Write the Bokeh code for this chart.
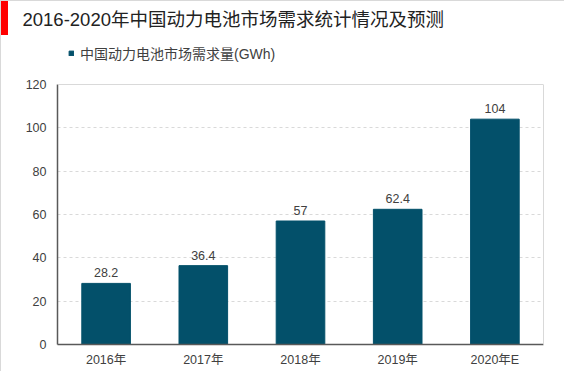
from bokeh.plotting import figure
from bokeh.models import (ColumnDataSource, Range1d, FactorRange, Legend, LegendItem, FixedTicker,
                          LinearAxis, Span)
from bokeh.embed import file_html
from bokeh.resources import INLINE

categories = ["2016年", "2017年", "2018年", "2019年", "2020年E"]
demand = [28.2, 36.4, 57, 62.4, 104]
value_labels = ["28.2", "36.4", "57", "62.4", "104"]
y_ticks = [0, 20, 40, 60, 80, 100, 120]
series_name = "中国动力电池市场需求量(GWh)"
title_text = "2016-2020年中国动力电池市场需求统计情况及预测"

FONT = "Liberation Sans, Noto Sans CJK SC"
BAR = "#03506a"

W, H = 564, 371
TOP, BOTTOM, LEFT, RIGHT = 30, 27, 57, 21   # panel sizes in px
FRAME_H = H - TOP - BOTTOM
Y_MAX = 120
AXIS_TOP_PX = 84                            # where 120 sits, px from top
Y_END = Y_MAX * FRAME_H / (H - BOTTOM - AXIS_TOP_PX)
LEGEND_BOTTOM_PX = 63                       # legend box bottom, px from top

src = ColumnDataSource(dict(cat=categories, val=demand, lab=value_labels))

p = figure(width=W, height=H, x_range=FactorRange(*categories, range_padding=0),
           y_range=Range1d(0, Y_END), output_backend="svg", toolbar_location=None,
           min_border_left=LEFT, min_border_right=RIGHT, min_border_top=TOP, min_border_bottom=BOTTOM)
p.x_range.range_padding = 0
p.border_fill_alpha = 0
p.background_fill_color = "white"
p.outline_line_color = None
p.styles = {
    "background": "linear-gradient(#ff0000, #ff0000) 0 0 / 8px 35px no-repeat, white",
    "box-shadow": "inset 1px 1px 0 #d9d9d9",
}

r = p.vbar(x="cat", top="val", width=0.5, source=src, fill_color=BAR, line_color=BAR)

p.text(x="cat", y="val", text="lab", source=src, text_align="center", text_baseline="bottom",
       y_offset=-6, text_font_size="12.5px", text_color="#404040", text_font={"value": FONT})

p.yaxis.ticker = FixedTicker(ticks=y_ticks)
p.yaxis.bounds = (0, Y_MAX)
for ax in (p.xaxis, p.yaxis):
    ax.major_tick_line_color = None
    ax.minor_tick_line_color = None
    ax.major_tick_out = 0
    ax.major_tick_in = 0
    ax.minor_tick_out = 0
    ax.axis_line_color = "#595959"
    ax.axis_line_width = 1.5
    ax.major_label_text_font_size = "12.5px"
    ax.major_label_text_color = "#404040"
    ax.major_label_text_font = FONT
p.yaxis.major_label_standoff = 11
p.xaxis.major_label_standoff = 8
p.xgrid.grid_line_color = None
p.ygrid.grid_line_color = "#d9d9d9"
p.ygrid.grid_line_dash = "3 3"

# light frame: top line at 120 and right edge
p.add_layout(Span(location=Y_MAX, dimension="width", line_color="#d9d9d9", line_width=1))
right_axis = LinearAxis(ticker=FixedTicker(ticks=[]), bounds=(0, Y_MAX), axis_line_color="#d9d9d9",
                        major_tick_line_color=None, minor_tick_line_color=None,
                        major_tick_out=0, major_tick_in=0, minor_tick_out=0,
                        major_label_text_alpha=0)
p.add_layout(right_axis, "right")

p.title.text = title_text
p.title.text_font_size = "18.5px"
p.title.text_font = FONT
p.title.text_font_style = "normal"
p.title.text_color = "#222222"
p.title.offset = 22 - LEFT
p.title.standoff = 1

legend = Legend(items=[LegendItem(label=series_name, renderers=[r])],
                location=(11, H - BOTTOM - LEGEND_BOTTOM_PX), orientation="horizontal",
                label_text_font_size="14px", label_text_font=FONT, label_text_color="#404040",
                glyph_width=6, glyph_height=6, label_height=16, label_standoff=6,
                margin=0, padding=0, spacing=0,
                border_line_color=None, background_fill_alpha=0)
p.add_layout(legend, "center")

open("out.html", "w").write(file_html(p, INLINE))
